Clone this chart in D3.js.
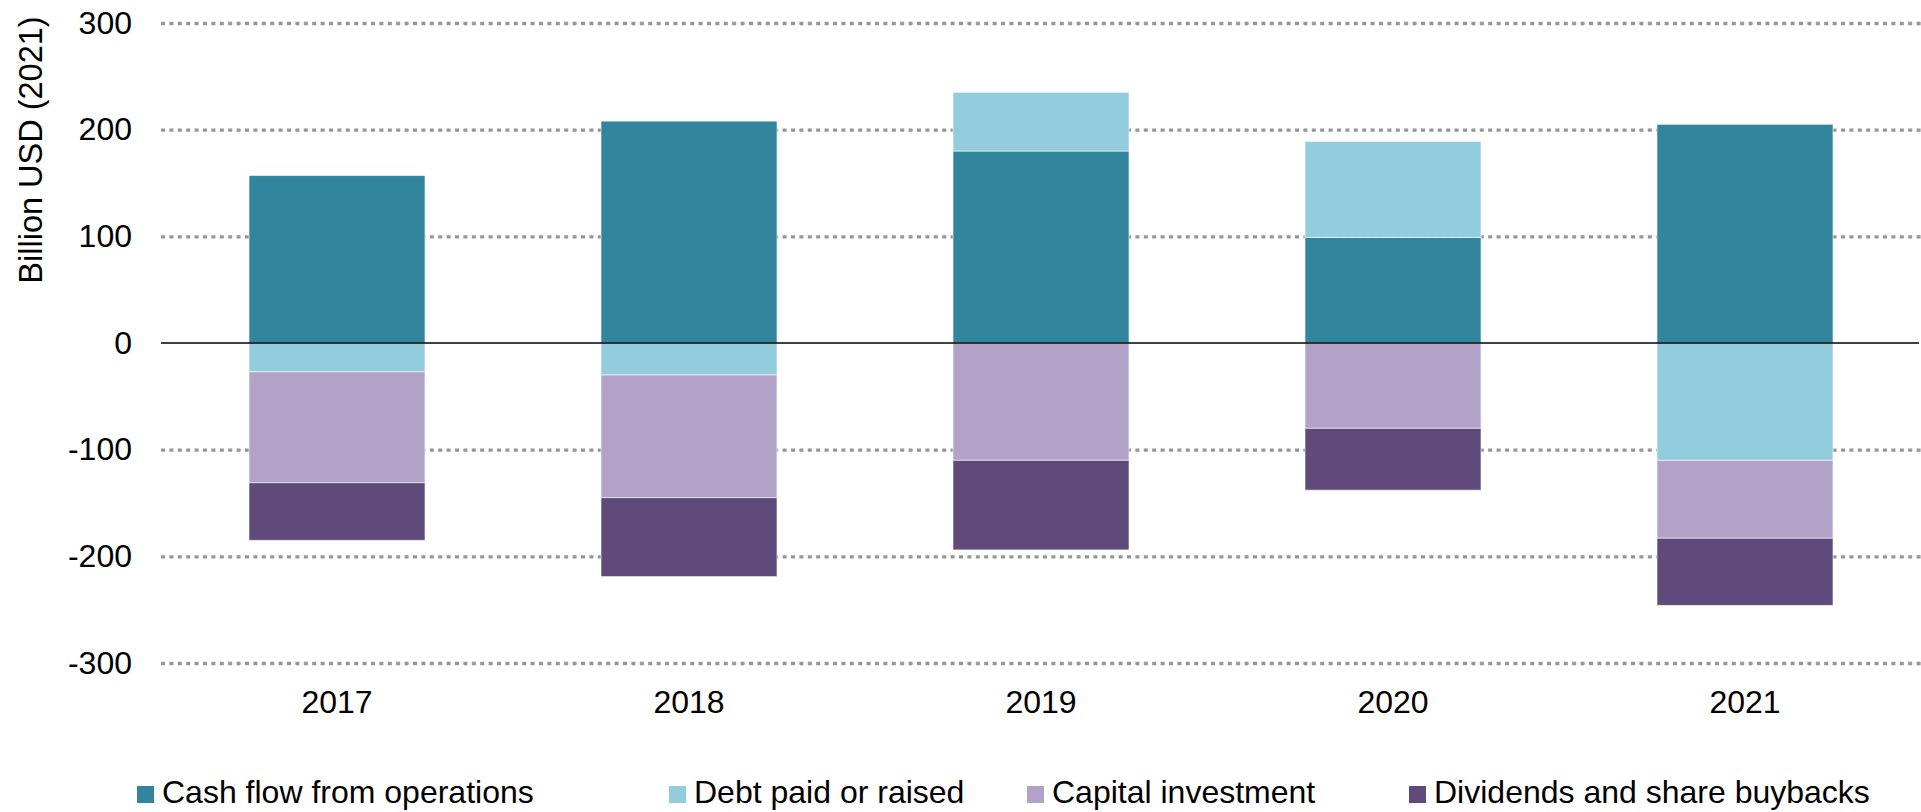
<!DOCTYPE html>
<html>
<head>
<meta charset="utf-8">
<script src="https://cdn.jsdelivr.net/npm/d3@7"></script>
<style>
  body { margin: 0; background: #fff; }
  text { font-family: "Liberation Sans", Arial, sans-serif; fill: #000; }
</style>
</head>
<body>
<script>
var years = ["2017", "2018", "2019", "2020", "2021"];
var seriesNames = ["Cash flow from operations", "Debt paid or raised", "Capital investment", "Dividends and share buybacks"];
var cashFlow = [157, 208, 180, 99, 205];
var debt = [-27, -30, 55, 90, -110];
var capex = [-104, -115, -110, -80, -73];
var dividends = [-54, -74, -84, -58, -63];
var yTicks = [-300, -200, -100, 0, 100, 200, 300];
var colors = ["#31859C", "#93CDDD", "#B2A2C7", "#604A7B"];

var width = 1921, height = 812;
var margin = {top: 23, right: 0, bottom: 149, left: 161};

var svg = d3.select("body").append("svg")
    .attr("width", width)
    .attr("height", height);

var keys = ["cfo", "debt", "capex", "div"];
var table = years.map(function(y, i) {
    return {year: y, cfo: cashFlow[i], debt: debt[i], capex: capex[i], div: dividends[i]};
});

var stacked = d3.stack()
    .keys(keys)
    .offset(d3.stackOffsetDiverging)(table);

var x = d3.scaleBand()
    .domain(years)
    .range([margin.left, width - margin.right])
    .paddingInner(0.5)
    .paddingOuter(0.25);

var y = d3.scaleLinear()
    .domain([-300, 300])
    .range([height - margin.bottom, margin.top]);

// grid + tick labels
var yAxis = svg.append("g")
    .attr("transform", "translate(" + margin.left + ",0)")
    .call(d3.axisLeft(y)
        .tickValues(yTicks)
        .tickSize(-(width - margin.left - margin.right))
        .tickPadding(29)
        .tickFormat(function(d) { return String(d); }));
yAxis.select(".domain").remove();
yAxis.selectAll(".tick line")
    .attr("stroke", function(d) { return d === 0 ? "none" : "#969696"; })
    .attr("stroke-width", 3.4)
    .attr("stroke-dasharray", "4,4.4");
yAxis.selectAll(".tick text")
    .attr("font-size", "32px")
    .style("font-family", "'Liberation Sans', Arial, sans-serif")
    .attr("fill", "#000");

// bars
svg.append("g")
    .selectAll("g")
    .data(stacked)
    .join("g")
    .attr("fill", function(d, i) { return colors[i]; })
    .selectAll("rect")
    .data(function(d) { return d; })
    .join("rect")
    .attr("x", function(d) { return x(d.data.year); })
    .attr("width", x.bandwidth())
    .attr("y", function(d) { return y(Math.max(d[0], d[1])); })
    .attr("height", function(d) { return Math.abs(y(d[0]) - y(d[1])); })
    .attr("stroke", "rgba(255,255,255,0.6)")
    .attr("stroke-width", 1);

// zero line
svg.append("line")
    .attr("x1", margin.left)
    .attr("x2", width - 2)
    .attr("y1", y(0))
    .attr("y2", y(0))
    .attr("stroke", "#000")
    .attr("stroke-width", 1.5);

// x labels
svg.append("g")
    .selectAll("text")
    .data(years)
    .join("text")
    .attr("x", function(d) { return x(d) + x.bandwidth() / 2; })
    .attr("y", 713)
    .attr("text-anchor", "middle")
    .attr("font-size", "32px")
    .text(function(d) { return d; });

// y title
svg.append("text")
    .attr("transform", "translate(42,150) rotate(-90)")
    .attr("text-anchor", "middle")
    .attr("font-size", "32.5px")
    .text("Billion USD (2021)");

// legend
var legendX = [137, 669, 1027, 1409];
var legend = svg.append("g")
    .selectAll("g")
    .data(seriesNames)
    .join("g")
    .attr("transform", function(d, i) { return "translate(" + legendX[i] + ",786)"; });
legend.append("rect")
    .attr("width", 17)
    .attr("height", 17)
    .attr("fill", function(d, i) { return colors[i]; });
legend.append("text")
    .attr("x", 25)
    .attr("y", 17)
    .attr("font-size", "32px")
    .text(function(d) { return d; });
</script>
</body>
</html>
